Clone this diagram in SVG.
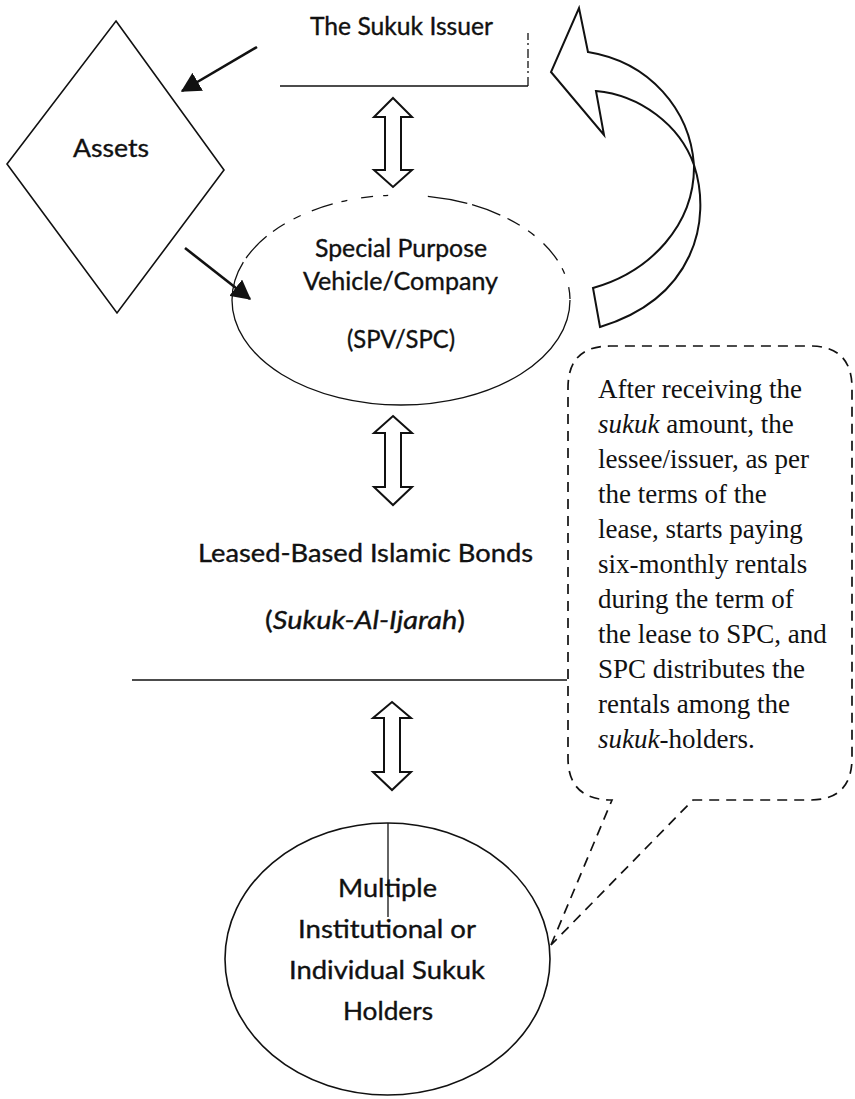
<svg xmlns="http://www.w3.org/2000/svg" width="855" height="1099" viewBox="0 0 855 1099">
  <style>
    .lbl { font-family: Lato, "Open Sans", "Liberation Sans", sans-serif; font-size: 24.5px; fill: #111; stroke: #111; stroke-width: 0.35; text-anchor: middle; }
    .note { font-family: "Liberation Serif", "Times New Roman", serif; font-size: 27px; fill: #111; }
    .shape { fill: #fff; stroke: #111; stroke-width: 1.6; }
    .thin { fill: none; stroke: #111; stroke-width: 1.3; }
    .dbl { fill: #fff; stroke: #111; stroke-width: 2; stroke-linejoin: miter; }
    .conn { fill: none; stroke: #111; stroke-width: 2.6; }
  </style>
  <defs>
    <marker id="head" markerWidth="8.5" markerHeight="8" refX="7" refY="4" orient="auto" markerUnits="strokeWidth">
      <path d="M0,0 L7.5,4 L0,8 Z" fill="#111"/>
    </marker>
  </defs>

  <rect width="855" height="1099" fill="#fff"/>

  <!-- Sukuk issuer: open box with bottom rule and right edge -->
  <g id="issuer">
    <line class="thin" x1="280" y1="86" x2="528" y2="86" stroke-width="1.6"/>
    <line class="thin" x1="528" y1="33" x2="528" y2="86" stroke-dasharray="7 3 2 4 9 3"/>
    <text class="lbl" x="401.5" y="35" textLength="183" lengthAdjust="spacingAndGlyphs">The Sukuk Issuer</text>
  </g>

  <!-- Assets diamond -->
  <g id="assets">
    <polygon class="shape" points="116,21 224,170 117,313 7,164"/>
    <text class="lbl" x="111" y="157" textLength="76" lengthAdjust="spacingAndGlyphs">Assets</text>
  </g>

  <!-- Special purpose vehicle ellipse -->
  <g id="spv">
    <path class="thin" d="M232,300 A169,105 0 0 0 570,300"/>
    <path class="thin" d="M232,300 A169,105 0 0 1 570,300" stroke-dasharray="40 5 30 8 14 10 8 12 22 9 6 14 12 10 5 40"/>
    <text class="lbl" x="401" y="257" textLength="172" lengthAdjust="spacingAndGlyphs">Special Purpose</text>
    <text class="lbl" x="400.5" y="290" textLength="195" lengthAdjust="spacingAndGlyphs">Vehicle/Company</text>
    <text class="lbl" x="401" y="348" textLength="108" lengthAdjust="spacingAndGlyphs">(SPV/SPC)</text>
  </g>

  <!-- Lease-based bonds label with underline -->
  <g id="bonds">
    <text class="lbl" x="365.5" y="562" textLength="335" lengthAdjust="spacingAndGlyphs">Leased-Based Islamic Bonds</text>
    <text class="lbl" x="365" y="629" textLength="200" lengthAdjust="spacingAndGlyphs">(<tspan font-style="italic">Sukuk-Al-Ijarah</tspan>)</text>
    <line class="thin" x1="132" y1="680" x2="567" y2="680" stroke-width="1.5"/>
  </g>

  <!-- Sukuk holders circle -->
  <g id="holders">
    <ellipse class="shape" cx="387.5" cy="959" rx="162.5" ry="136"/>
    <line class="thin" x1="388" y1="823" x2="388" y2="917"/>
    <text class="lbl" x="387.5" y="897" textLength="99" lengthAdjust="spacingAndGlyphs">Multiple</text>
    <text class="lbl" x="387" y="938" textLength="178" lengthAdjust="spacingAndGlyphs">Institutional or</text>
    <text class="lbl" x="387" y="979" textLength="196" lengthAdjust="spacingAndGlyphs">Individual Sukuk</text>
    <text class="lbl" x="388" y="1020" textLength="90" lengthAdjust="spacingAndGlyphs">Holders</text>
  </g>

  <!-- Explanatory callout -->
  <g id="callout">
    <path d="M551,945 L612,800 Q568,800 568,758 L568,388 Q568,346 610,346 L810,346 Q852,346 852,388 L852,758 Q852,800 810,800 L693,800 Z"
          fill="#fff" stroke="#111" stroke-width="1.7" stroke-dasharray="10 7"/>
    <text class="note" x="598" y="398">After receiving the</text>
    <text class="note" x="598" y="433"><tspan font-style="italic">sukuk</tspan> amount, the</text>
    <text class="note" x="598" y="468">lessee/issuer, as per</text>
    <text class="note" x="598" y="503">the terms of the</text>
    <text class="note" x="598" y="538">lease, starts paying</text>
    <text class="note" x="598" y="573">six-monthly rentals</text>
    <text class="note" x="598" y="608">during the term of</text>
    <text class="note" x="598" y="643">the lease to SPC, and</text>
    <text class="note" x="598" y="678">SPC distributes the</text>
    <text class="note" x="598" y="713">rentals among the</text>
    <text class="note" x="598" y="748"><tspan font-style="italic">sukuk</tspan>-holders.</text>
  </g>

  <!-- Connectors -->
  <g id="connectors">
    <line class="conn" x1="257" y1="47" x2="182" y2="91" marker-end="url(#head)"/>
    <line class="conn" x1="185" y1="248" x2="250" y2="299" marker-end="url(#head)"/>
    <path class="dbl" d="M393,98 L412,117 L401,117 L401,170 L412,170 L393,187 L374,170 L385,170 L385,117 L374,117 Z"/>
    <path class="dbl" d="M393,416 L412,433 L401,433 L401,487 L412,487 L393,505 L374,487 L385,487 L385,433 L374,433 Z"/>
    <path class="dbl" d="M392,702 L411,718 L400,718 L400,772 L411,772 L392,790 L373,772 L384,772 L384,718 L373,718 Z"/>
    <!-- curved return arrow from SPV back to issuer -->
    <path class="dbl" stroke-width="2.2" d="M588,52 C650,62 690,110 694,165 C712,220 695,298 600,327 L593,288 C650,272 695,225 694,165 C680,125 640,95 596,91 L604,135 L551,72 L579,8 Z"/>
  </g>
</svg>
